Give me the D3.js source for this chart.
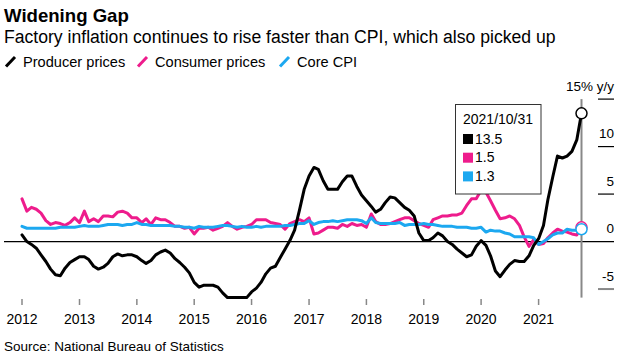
<!DOCTYPE html>
<html>
<head>
<meta charset="utf-8">
<script src="https://cdn.jsdelivr.net/npm/d3@7"></script>
<style>
  html, body { margin: 0; padding: 0; background: #fff; }
  svg { display: block; font-family: "Liberation Sans", Arial, Helvetica, sans-serif; }
</style>
</head>
<body>
<svg id="chart" width="623" height="363"></svg>
<script>
// ---- Data (monthly, Jan 2012 – Oct 2021, % y/y) ----
const startYear = 2012;
const producerPrices = [
  0.7, 0.0, -0.3, -0.7, -1.4, -2.1, -2.9, -3.5, -3.6, -2.8, -2.2, -1.9,
  -1.6, -1.6, -1.9, -2.6, -2.9, -2.7, -2.3, -1.6, -1.3, -1.5, -1.4, -1.4,
  -1.6, -2.0, -2.3, -2.0, -1.4, -1.1, -0.9, -1.2, -1.8, -2.2, -2.7, -3.3,
  -4.3, -4.8, -4.6, -4.6, -4.6, -4.8, -5.4, -5.9, -5.9, -5.9, -5.9, -5.9,
  -5.3, -4.9, -4.3, -3.4, -2.8, -2.6, -1.7, -0.8, 0.1, 1.2, 3.3, 5.5,
  6.9, 7.8, 7.6, 6.4, 5.5, 5.5, 5.5, 6.3, 6.9, 6.9, 5.8, 4.9,
  4.3, 3.7, 3.1, 3.4, 4.1, 4.7, 4.6, 4.1, 3.6, 3.3, 2.7, 0.9,
  0.1, 0.1, 0.4, 0.9, 0.6, 0.0, -0.3, -0.8, -1.2, -1.6, -1.4, -0.5,
  0.1, -0.4, -1.5, -3.1, -3.7, -3.0, -2.4, -2.0, -2.1, -2.1, -1.5, -0.4,
  0.3, 1.7, 4.4, 6.8, 9.0, 8.8, 9.0, 9.5, 10.7, 13.5
];
const consumerPrices = [
  4.5, 3.2, 3.6, 3.4, 3.0, 2.2, 1.8, 2.0, 1.9, 1.7, 2.0, 2.5,
  2.0, 3.2, 2.1, 2.4, 2.1, 2.7, 2.7, 2.6, 3.1, 3.2, 3.0, 2.5,
  2.5, 2.0, 2.4, 1.8, 2.5, 2.3, 2.3, 2.0, 1.6, 1.6, 1.4, 1.5,
  0.8, 1.4, 1.4, 1.5, 1.2, 1.4, 1.6, 2.0, 1.6, 1.3, 1.5, 1.6,
  1.8, 2.3, 2.3, 2.3, 2.0, 1.9, 1.8, 1.3, 1.9, 2.1, 2.3, 2.1,
  2.5, 0.8, 0.9, 1.2, 1.5, 1.5, 1.4, 1.8, 1.6, 1.9, 1.7, 1.8,
  1.5, 2.9, 2.1, 1.8, 1.8, 1.9, 2.1, 2.3, 2.5, 2.5, 2.2, 1.9,
  1.7, 1.5, 2.3, 2.5, 2.7, 2.7, 2.8, 2.8, 3.0, 3.8, 4.5, 4.5,
  5.4, 5.2, 4.3, 3.3, 2.4, 2.5, 2.7, 2.4, 1.7, 0.5, -0.5, 0.2,
  -0.3, -0.2, 0.4, 0.9, 1.3, 1.1, 1.0, 0.8, 0.7, 1.5
];
const coreCPI = [
  1.6, 1.4, 1.4, 1.4, 1.4, 1.4, 1.4, 1.4, 1.5, 1.5, 1.5, 1.5,
  1.6, 1.7, 1.6, 1.6, 1.6, 1.7, 1.8, 1.8, 1.8, 1.7, 1.8, 1.8,
  2.0, 1.8, 1.8, 1.7, 1.7, 1.7, 1.7, 1.7, 1.6, 1.6, 1.5, 1.5,
  1.4, 1.6, 1.5, 1.5, 1.5, 1.6, 1.7, 1.7, 1.6, 1.5, 1.6, 1.5,
  1.5, 1.6, 1.5, 1.6, 1.6, 1.6, 1.6, 1.7, 1.7, 1.8, 1.9, 1.9,
  2.2, 1.8, 2.0, 2.1, 2.1, 2.2, 2.1, 2.2, 2.3, 2.3, 2.3, 2.2,
  1.9, 2.5, 2.0, 1.9, 1.9, 1.9, 1.9, 2.0, 1.7, 1.8, 1.8, 1.8,
  1.9, 1.8, 1.8, 1.7, 1.6, 1.6, 1.6, 1.5, 1.5, 1.5, 1.4, 1.4,
  1.5, 1.0, 1.2, 1.1, 1.1, 0.9, 0.8, 0.5, 0.5, 0.5, 0.5, 0.4,
  -0.3, 0.0, 0.3, 0.7, 0.9, 0.9, 1.3, 1.2, 1.2, 1.3
];
const yearTicks = [2012, 2013, 2014, 2015, 2016, 2017, 2018, 2019, 2020, 2021];
const yTicks = [15, 10, 5, 0, -5];
const seriesNames = ["Producer prices", "Consumer prices", "Core CPI"];
const seriesColors = ["#000000", "#ee1c8c", "#1ca8f0"];
const tooltipDate = "2021/10/31";
const tooltipValues = ["13.5", "1.5", "1.3"];

// ---- Setup ----
const svg = d3.select("#chart");
const dateOf = i => new Date(startYear, i, 1);
const x = d3.scaleTime()
  .domain([dateOf(0), dateOf(producerPrices.length - 1)])
  .range([22, 581.5]);
const y = d3.scaleLinear().domain([-5.9, 15]).range([297.6, 99.1]);

// Title / subtitle
svg.append("text").attr("x", 4).attr("y", 22)
  .attr("font-size", 18.6).attr("font-weight", "bold").attr("fill", "#000")
  .text("Widening Gap");
svg.append("text").attr("x", 4).attr("y", 43)
  .attr("font-size", 17.6).attr("fill", "#000")
  .text("Factory inflation continues to rise faster than CPI, which also picked up");

// Legend
const legendX = [6, 138, 280];
seriesNames.forEach((name, k) => {
  const g = svg.append("g").attr("transform", `translate(${legendX[k]},0)`);
  g.append("line").attr("x1", 0).attr("y1", 66.5).attr("x2", 9).attr("y2", 57)
    .attr("stroke", seriesColors[k]).attr("stroke-width", 3);
  g.append("text").attr("x", 17).attr("y", 67)
    .attr("font-size", 14.6).attr("fill", "#000").text(name);
});

// Right axis ticks and labels
yTicks.forEach(v => {
  if (v !== 0) {
    svg.append("line").attr("x1", 598).attr("x2", 614)
      .attr("y1", y(v)).attr("y2", y(v))
      .attr("stroke", v === -5 ? "#888" : "#000")
      .attr("stroke-width", v === -5 ? 2 : 1.2);
  }
  svg.append("text").attr("x", 614).attr("y", y(v) - 8.5)
    .attr("text-anchor", "end").attr("font-size", 13.5).attr("fill", "#000")
    .text(v === 15 ? "15% y/y" : String(v));
});

// Zero line
svg.append("line").attr("x1", 4).attr("x2", 614)
  .attr("y1", y(0)).attr("y2", y(0))
  .attr("stroke", "#000").attr("stroke-width", 1.2);

// X axis ticks & labels
yearTicks.forEach(yr => {
  const xx = x(new Date(yr, 0, 1));
  svg.append("line").attr("x1", xx).attr("x2", xx).attr("y1", 299).attr("y2", 305)
    .attr("stroke", "#888").attr("stroke-width", 1.5);
  svg.append("text").attr("x", xx).attr("y", 323.5)
    .attr("text-anchor", "middle").attr("font-size", 14).attr("fill", "#000")
    .text(String(yr));
});

// Source
svg.append("text").attr("x", 4).attr("y", 351)
  .attr("font-size", 13.5).attr("fill", "#000")
  .text("Source: National Bureau of Statistics");

// Vertical cursor line
const lastIdx = producerPrices.length - 1;
svg.append("line").attr("x1", x(dateOf(lastIdx))).attr("x2", x(dateOf(lastIdx)))
  .attr("y1", y(15)).attr("y2", y(-5.9))
  .attr("stroke", "#888").attr("stroke-width", 2);

// Lines
const line = d3.line().x((d, i) => x(dateOf(i))).y(d => y(d)).curve(d3.curveLinear);
const drawOrder = [[consumerPrices, 1], [coreCPI, 2], [producerPrices, 0]];
drawOrder.forEach(([vals, k]) => {
  svg.append("path").datum(vals).attr("d", line)
    .attr("fill", "none").attr("stroke", seriesColors[k])
    .attr("stroke-width", 3).attr("stroke-linejoin", "round").attr("stroke-linecap", "round");
});

// End markers
[[consumerPrices, 1], [coreCPI, 2], [producerPrices, 0]].forEach(([vals, k]) => {
  svg.append("circle").attr("cx", x(dateOf(lastIdx))).attr("cy", y(vals[lastIdx]))
    .attr("r", 5.5).attr("fill", "#fff")
    .attr("stroke", k === 0 ? "#000" : seriesColors[k]).attr("stroke-width", 1.5);
});

// Tooltip box
const tip = svg.append("g");
tip.append("rect").attr("x", 455.5).attr("y", 104.5).attr("width", 85.5).attr("height", 89.5)
  .attr("fill", "#fff").attr("stroke", "#333").attr("stroke-width", 1);
tip.append("text").attr("x", 463).attr("y", 123.5).attr("font-size", 14).attr("fill", "#000")
  .text(tooltipDate);
tooltipValues.forEach((v, k) => {
  const by = 143.5 + k * 18.7;
  tip.append("rect").attr("x", 463).attr("y", by - 9.5).attr("width", 10).attr("height", 10)
    .attr("fill", seriesColors[k]);
  tip.append("text").attr("x", 475).attr("y", by).attr("font-size", 14).attr("fill", "#000")
    .text(v);
});
</script>
</body>
</html>
